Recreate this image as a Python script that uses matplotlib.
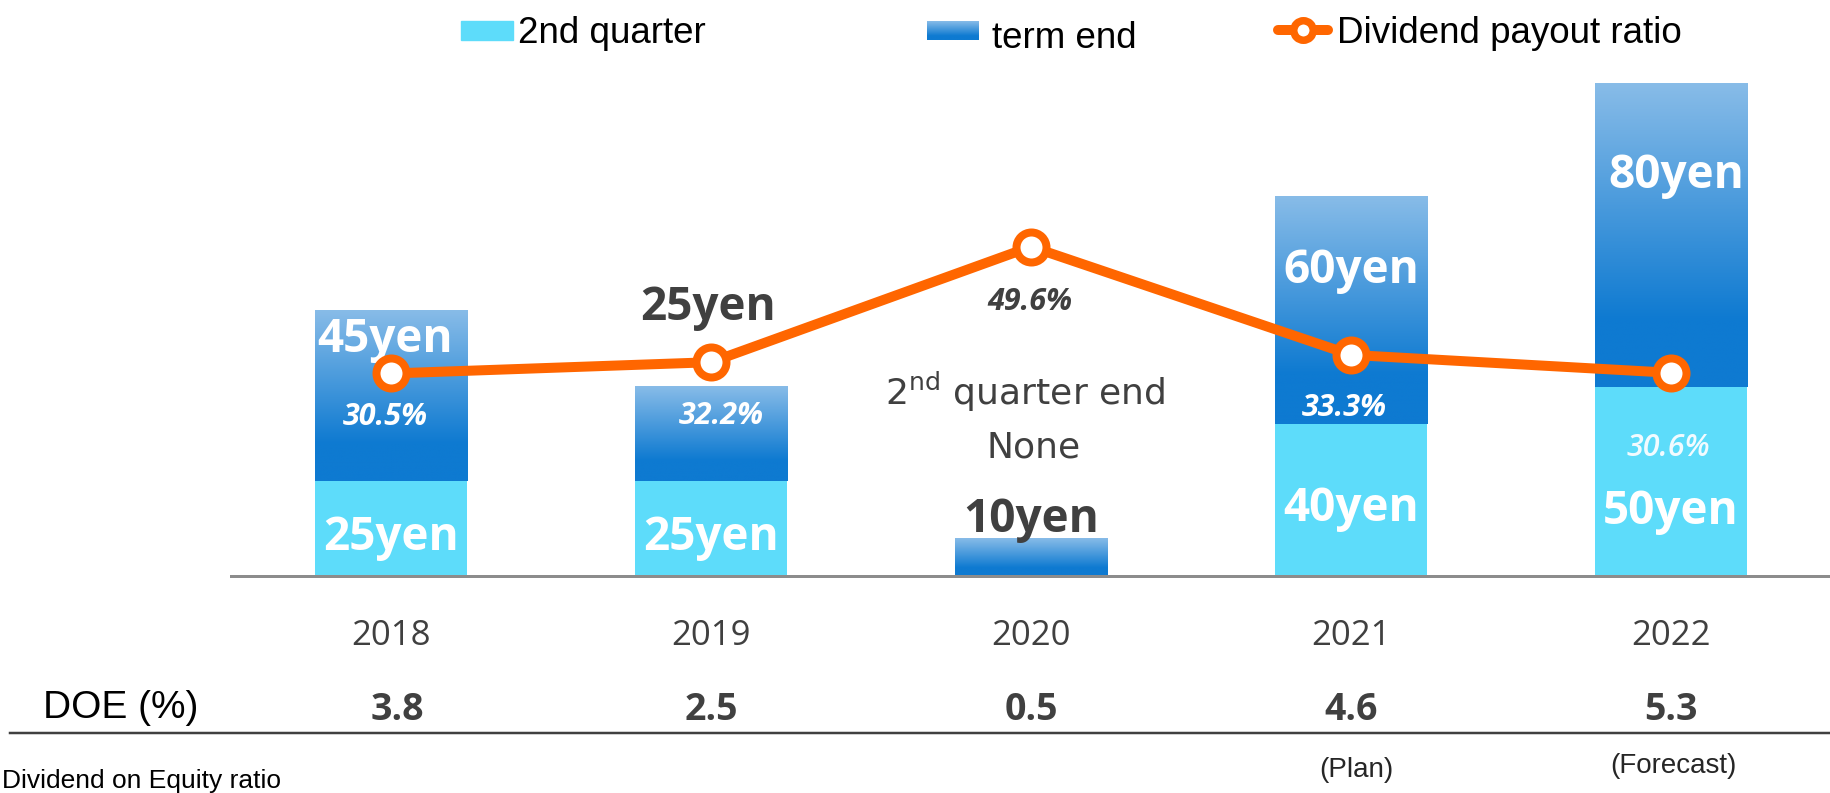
import matplotlib
matplotlib.use("Agg")
import matplotlib.pyplot as plt
import numpy as np
from matplotlib import font_manager
from matplotlib.lines import Line2D
from matplotlib.patches import Rectangle
from matplotlib.colors import LinearSegmentedColormap

# data
years = ["2018", "2019", "2020", "2021", "2022"]
second_quarter = [25, 25, 0, 40, 50]
term_end = [45, 25, 10, 60, 80]
payout_ratio = [30.5, 32.2, 49.6, 33.3, 30.6]
doe = ["3.8", "2.5", "0.5", "4.6", "5.3"]
notes = ["", "", "", "(Plan)", "(Forecast)"]

W, H, DPI = 1831, 793, 100
PX = 72 / DPI  # points per pixel

CYAN = "#5DDCFA"
LIGHT_BLUE = "#88BCE8"
DARK_BLUE = "#0E7AD1"
ORANGE = "#FF6600"
GREY = "#404040"
ARIAL = "Liberation Sans"


def pick_family(italic=False):
    # first Segoe-like family that really has a bold face installed
    for name in ["Open Sans", "Noto Sans", "Roboto", "Lato", "DejaVu Sans"]:
        for f in font_manager.fontManager.ttflist:
            w = f.weight if isinstance(f.weight, int) else 700 if "bold" in str(f.weight) else 400
            if f.name == name and w >= 600 and (f.style == "italic") == italic:
                return name
    return "DejaVu Sans"


SANS = "Open Sans"
BOLD = pick_family()
BOLD_IT = pick_family(italic=True)

grad_cmap = LinearSegmentedColormap.from_list(
    "term", [(0, LIGHT_BLUE), (0.78, DARK_BLUE), (1, DARK_BLUE)])
grad = np.linspace(0, 1, 256).reshape(-1, 1)

fig = plt.figure(figsize=(W / DPI, H / DPI), dpi=DPI)
base_px, top_px, left_px = 576, 40, 231
ax = fig.add_axes([left_px / W, (H - base_px) / H, 1 - left_px / W, (base_px - top_px) / H])
ax2 = ax.twinx()

x = np.arange(len(years))
bw = 0.478
ax.bar(x, second_quarter, bw, color=CYAN, zorder=2)
t_bars = ax.bar(x, term_end, bw, bottom=second_quarter, color="none", zorder=2)
for b in t_bars:
    x0, y0, w, h = b.get_x(), b.get_y(), b.get_width(), b.get_height()
    ax.imshow(grad, extent=(x0, x0 + w, y0, y0 + h), aspect="auto",
              cmap=grad_cmap, origin="upper", zorder=2)

ax.set_xlim(-0.5, 4.5)
ax.set_ylim(0, (base_px - top_px) / 3.79)
ax2.set_ylim(0, (base_px - top_px) / 6.64)

ax2.plot(x, payout_ratio, color=ORANGE, lw=10 * PX, marker="o", ms=30 * PX,
         mfc="white", mec=ORANGE, mew=8 * PX, zorder=3, solid_joinstyle="round")

for a in (ax, ax2):
    for s in a.spines.values():
        s.set_visible(False)
    a.set_xticks([])
    a.set_yticks([])
ax.spines["bottom"].set_visible(True)
ax.spines["bottom"].set_color("#8C8C8C")
ax.spines["bottom"].set_linewidth(3 * PX)


def label(axis, xv, yv, text, dx, dy, **kw):
    # dx, dy in pixels, dy positive downwards, anchored on the text baseline
    axis.annotate(text, (xv, yv), xytext=(dx * PX, -dy * PX), textcoords="offset points",
                  ha="center", va="baseline", annotation_clip=False, **kw)


yen_font = dict(family=BOLD, fontsize=33, fontweight="bold")
pct_font = dict(family=BOLD_IT, fontsize=22, fontweight="bold", style="italic")

# 2nd quarter labels
q_dy = [-26, -26, None, -55, -52]
for i, v in enumerate(second_quarter):
    if v:
        label(ax, i, 0, f"{v}yen", 0, q_dy[i], color="white", **yen_font)

# term end labels
t_dy = [41, -67, -6, 86, 105]
t_dx = [-6, -3, 0, 0, 5]
t_col = ["white", GREY, GREY, "white", "white"]
for i, v in enumerate(term_end):
    label(ax, i, second_quarter[i] + v, f"{v}yen", t_dx[i], t_dy[i], color=t_col[i], **yen_font)

# payout ratio labels
p_dx = [-6, 10, -1, -7, -3]
p_dy = [52, 62, 63, 61, 83]
p_col = ["white", "white", GREY, "white", "#F2FBFF"]
for i, v in enumerate(payout_ratio):
    kw = dict(pct_font)
    if i == 4:
        kw["fontweight"] = "semibold"
    label(ax2, i, v, f"{v}%", p_dx[i], p_dy[i], color=p_col[i], **kw)

label(ax, 2, 0, r"2$^{\mathrm{nd}}$ quarter end", -6, -171,
      color=GREY, family="DejaVu Sans", fontsize=26)
label(ax, 2, 0, "None", 3, -119, color=GREY, family="DejaVu Sans", fontsize=26)

# year row, DOE row, notes
for i in x:
    label(ax, i, 0, years[i], 0, 69, color=GREY, family=SANS, fontsize=25)
    label(ax, i, 0, doe[i], 6 if i == 0 else 0, 144, color=GREY, family=BOLD,
          fontsize=27, fontweight="bold")
    if notes[i]:
        label(ax, i, 0, notes[i], 5 if i == 3 else 2, 201 if i == 3 else 197,
              color="#262626", family=ARIAL, fontsize=20)

fig.text(43 / W, 1 - 718 / H, "DOE (%)", family=ARIAL, fontsize=28, va="baseline")
fig.text(2 / W, 1 - 788 / H, "Dividend on Equity ratio", family=ARIAL, fontsize=19,
         va="baseline", ha="left")
fig.add_artist(Line2D([10 / W, 1], [1 - 733 / H] * 2, color=GREY, lw=2.5 * PX))

# legend
fig.add_artist(Rectangle((461 / W, 1 - 40 / H), 52 / W, 19 / H, color=CYAN))
lax = fig.add_axes([927 / W, 1 - 40 / H, 52 / W, 19 / H])
lax.imshow(grad, aspect="auto", cmap=grad_cmap, origin="upper")
lax.axis("off")
fig.add_artist(Line2D([1278 / W, 1328 / W], [1 - 30 / H] * 2, color=ORANGE, lw=10 * PX,
                      solid_capstyle="round"))
fig.add_artist(Line2D([1303 / W], [1 - 30 / H], marker="o", ms=19.5 * PX, mew=7.5 * PX,
                      mfc="white", mec=ORANGE, lw=0))
leg_font = dict(family=ARIAL, fontsize=26.5, va="baseline")
fig.text(518 / W, 1 - 43 / H, "2nd quarter", **leg_font)
fig.text(992 / W, 1 - 48 / H, "term end", **leg_font)
fig.text(1337 / W, 1 - 43 / H, "Dividend payout ratio", **leg_font)

fig.savefig("out.png", dpi=DPI, facecolor="white")
